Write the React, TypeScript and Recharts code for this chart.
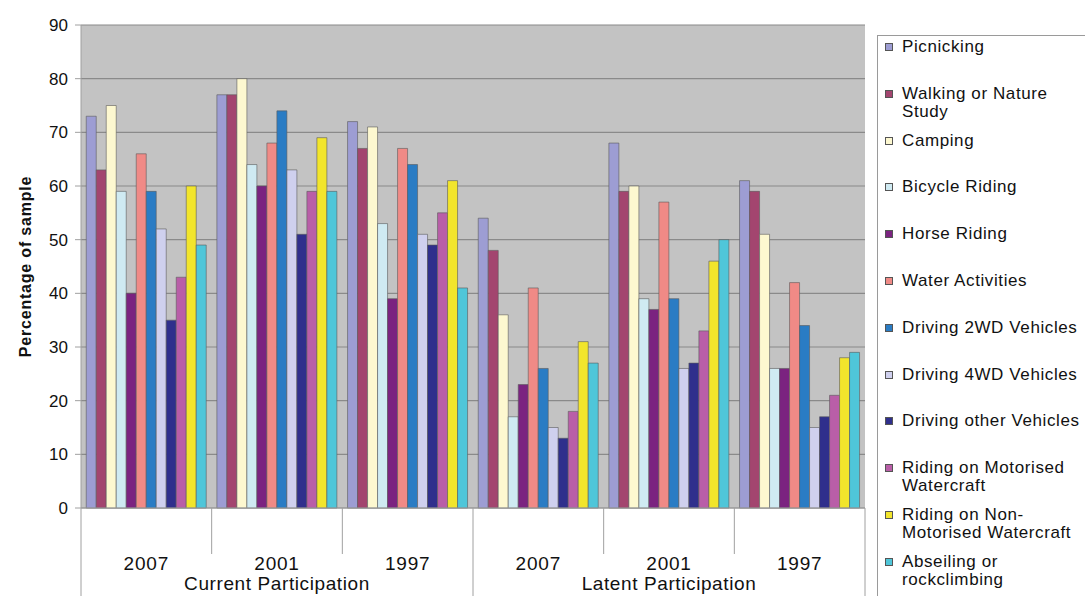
import React from "react";
import { BarChart, Bar, XAxis, YAxis, CartesianGrid, Label } from "recharts";

const categories = ["2007", "2001", "1997", "2007", "2001", "1997"];
const groups = ["Current Participation", "Current Participation", "Current Participation", "Latent Participation", "Latent Participation", "Latent Participation"];

const seriesNames = [
  "Picnicking",
  "Walking or Nature Study",
  "Camping",
  "Bicycle Riding",
  "Horse Riding",
  "Water Activities",
  "Driving 2WD Vehicles",
  "Driving 4WD Vehicles",
  "Driving other Vehicles",
  "Riding on Motorised Watercraft",
  "Riding on Non-Motorised Watercraft",
  "Abseiling or rockclimbing",
];

const picnicking = [73, 77, 72, 54, 68, 61];
const walking = [63, 77, 67, 48, 59, 59];
const camping = [75, 80, 71, 36, 60, 51];
const bicycle = [59, 64, 53, 17, 39, 26];
const horse = [40, 60, 39, 23, 37, 26];
const water = [66, 68, 67, 41, 57, 42];
const drive2wd = [59, 74, 64, 26, 39, 34];
const drive4wd = [52, 63, 51, 15, 26, 15];
const driveOther = [35, 51, 49, 13, 27, 17];
const motorised = [43, 59, 55, 18, 33, 21];
const nonMotorised = [60, 69, 61, 31, 46, 28];
const abseiling = [49, 59, 41, 27, 50, 29];

const seriesValues = [picnicking, walking, camping, bicycle, horse, water, drive2wd, drive4wd, driveOther, motorised, nonMotorised, abseiling];

const colors = ["#9d9dd3", "#a3456f", "#fdf8d0", "#cfeaf2", "#7b2380", "#f08a86", "#2a7cc4", "#cfd0ee", "#2f2f8c", "#b95ea8", "#f2e52c", "#4fc6d9"];

const yTicks = [0, 10, 20, 30, 40, 50, 60, 70, 80, 90];

const data = categories.map((c, i) => {
  const row: Record<string, string | number> = { year: c, group: groups[i], key: `${groups[i]}-${c}` };
  seriesNames.forEach((n, s) => {
    row[n] = seriesValues[s][i];
  });
  return row;
});

const FONT = "'Liberation Sans', Arial, sans-serif";

const XTick = (props: any) => {
  const { x, y, payload, index } = props;
  const half = payload && payload.offset ? payload.offset : 65;
  const i = typeof index === "number" ? index : payload.index;
  const year = categories[i];
  const isGroupStart = i === 0 || i === 3;
  const isLast = i === categories.length - 1;
  const isGroupMid = i === 1 || i === 4;
  return (
    <g>
      <line x1={x - half} x2={x - half} y1={y} y2={isGroupStart ? y + 90 : y + 46} stroke="#a0a0a0" strokeWidth={1} />
      {isLast && <line x1={x + half} x2={x + half} y1={y} y2={y + 90} stroke="#a0a0a0" strokeWidth={1} />}
      <text x={x} y={y + 62} textAnchor="middle" fontSize={19} fontFamily={FONT} fill="#111" letterSpacing={0.8}>
        {year}
      </text>
      {isGroupMid && (
        <text x={x} y={y + 82} textAnchor="middle" fontSize={19} fontFamily={FONT} fill="#111" letterSpacing={0.6}>
          {groups[i]}
        </text>
      )}
    </g>
  );
};

const LegendBox = () => (
  <div
    style={{
      position: "absolute",
      left: 877,
      top: 35,
      border: "1px solid #9a9a9a",
      background: "#fff",
      width: 210,
      height: 580,
      boxSizing: "border-box",
      paddingTop: 2,
      fontFamily: FONT,
      fontSize: 17,
      letterSpacing: 0.6,
      color: "#111",
    }}
  >
    {seriesNames.map((n, i) => (
      <div key={n} style={{ height: 46.8, position: "relative", lineHeight: "18px" }}>
        <span
          style={{
            position: "absolute",
            left: 7,
            top: 5,
            width: 8,
            height: 8,
            background: colors[i],
            border: "1px solid #555",
            boxSizing: "border-box",
          }}
        />
        <div style={{ position: "absolute", left: 24, top: 0, width: 186, whiteSpace: "normal" }}>{n}</div>
      </div>
    ))}
  </div>
);

export default function App() {
  return (
    <div style={{ position: "absolute", left: 0, top: 0, width: 1085, height: 596, background: "#fff", overflow: "hidden" }}>
      <BarChart
        width={1085}
        height={596}
        data={data}
        margin={{ top: 25, right: 220, bottom: 0, left: 0 }}
        barCategoryGap="4%"
        barGap={0}
      >
        <CartesianGrid vertical={false} fill="#c3c3c3" stroke="#8a8a8a" strokeWidth={1.2} />
        <XAxis
          dataKey="key"
          height={88}
          tickLine={false}
          tickSize={0}
          tickMargin={0}
          axisLine={{ stroke: "#a0a0a0" }}
          interval={0}
          tick={<XTick />}
        />
        <YAxis
          width={81}
          domain={[0, 90]}
          ticks={yTicks}
          interval={0}
          tickSize={6}
          tickMargin={7}
          axisLine={{ stroke: "#a0a0a0" }}
          tickLine={{ stroke: "#a0a0a0" }}
          tick={{ fontSize: 17, fontFamily: FONT, fill: "#111" }}
        >
          <Label
            value="Percentage of sample"
            angle={-90}
            position="insideLeft"
            offset={25}
            style={{ textAnchor: "middle", fontSize: 16, fontWeight: 700, fontFamily: FONT, fill: "#111", letterSpacing: 0.8 }}
          />
        </YAxis>
        {seriesNames.map((n, i) => (
          <Bar key={n} dataKey={n} fill={colors[i]} stroke="#5a5a5a" strokeWidth={0.6} isAnimationActive={false} />
        ))}
      </BarChart>
      <LegendBox />
    </div>
  );
}
